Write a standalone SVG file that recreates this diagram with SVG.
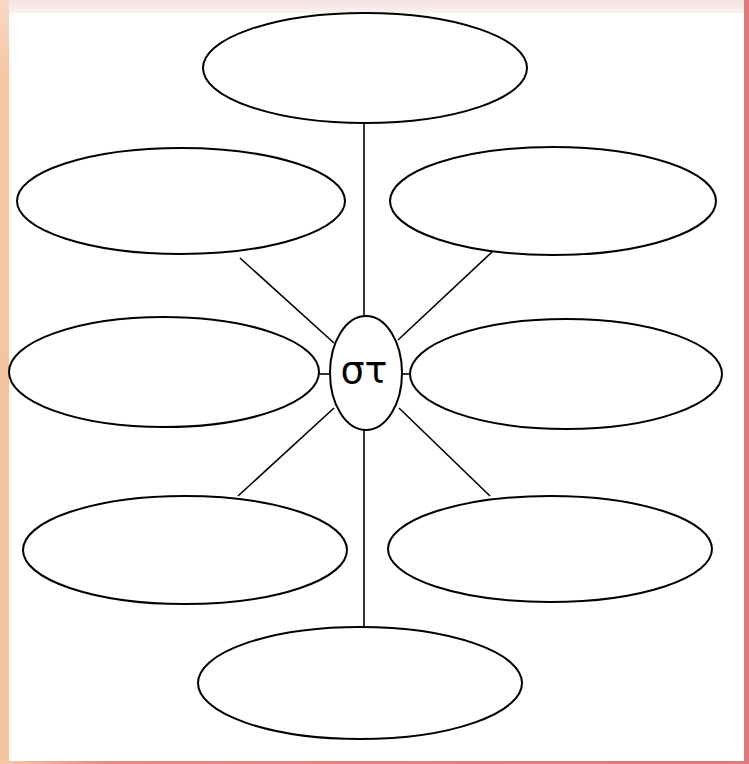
<svg xmlns="http://www.w3.org/2000/svg" width="749" height="764" viewBox="0 0 749 764">
<defs>
<linearGradient id="top" x1="0" y1="0" x2="0" y2="1"><stop offset="0" stop-color="#F6E2E2"/><stop offset="1" stop-color="#FBF1F0"/></linearGradient>
<linearGradient id="bot" x1="0" y1="0" x2="1" y2="0"><stop offset="0" stop-color="#F5C8A8"/><stop offset="0.15" stop-color="#E28A80"/><stop offset="1" stop-color="#DF7A78"/></linearGradient>
<linearGradient id="left" x1="0" y1="0" x2="0" y2="1"><stop offset="0" stop-color="#F8D8C4"/><stop offset="0.1" stop-color="#F6C6A2"/><stop offset="1" stop-color="#F5C49E"/></linearGradient>
<style>
.n ellipse{fill:#fff;stroke:#000;stroke-width:2}
.c line{stroke:#000;stroke-width:1.6}
.t{font-family:"DejaVu Sans",sans-serif;font-size:38px;fill:#000}
</style>
</defs>
<rect width="749" height="764" fill="#fff"/>
<rect x="0" y="0" width="749" height="13" fill="url(#top)"/>
<rect x="0" y="0" width="9" height="764" fill="url(#left)"/>
<rect x="744" y="0" width="5" height="764" fill="#DF7878"/>
<rect x="0" y="761" width="749" height="3" fill="url(#bot)"/>
<g id="connectors" class="c">
<line x1="364" y1="123" x2="364" y2="317"/>
<line x1="364" y1="430" x2="364" y2="627"/>
<line x1="319" y1="374" x2="330" y2="374"/>
<line x1="403" y1="374" x2="410" y2="374"/>
<line x1="240" y1="258" x2="334" y2="343"/>
<line x1="492" y1="252" x2="398" y2="340"/>
<line x1="238" y1="496" x2="334" y2="408"/>
<line x1="490" y1="496" x2="399" y2="408"/>
</g>
<g id="node-top" class="n"><ellipse cx="365" cy="68" rx="162" ry="55"/></g>
<g id="node-ul" class="n"><ellipse cx="181" cy="201" rx="164" ry="53"/></g>
<g id="node-ur" class="n"><ellipse cx="553" cy="201" rx="163" ry="54"/></g>
<g id="node-ml" class="n"><ellipse cx="164" cy="372" rx="155" ry="55"/></g>
<g id="node-mr" class="n"><ellipse cx="566" cy="374" rx="156" ry="55"/></g>
<g id="node-ll" class="n"><ellipse cx="185" cy="550" rx="162" ry="54"/></g>
<g id="node-lr" class="n"><ellipse cx="550" cy="549" rx="162" ry="53"/></g>
<g id="node-bottom" class="n"><ellipse cx="360" cy="683" rx="162" ry="56"/></g>
<g id="node-center" class="n"><ellipse cx="366" cy="373" rx="36" ry="57"/><text class="t" x="364" y="383" text-anchor="middle">στ</text></g>
</svg>
